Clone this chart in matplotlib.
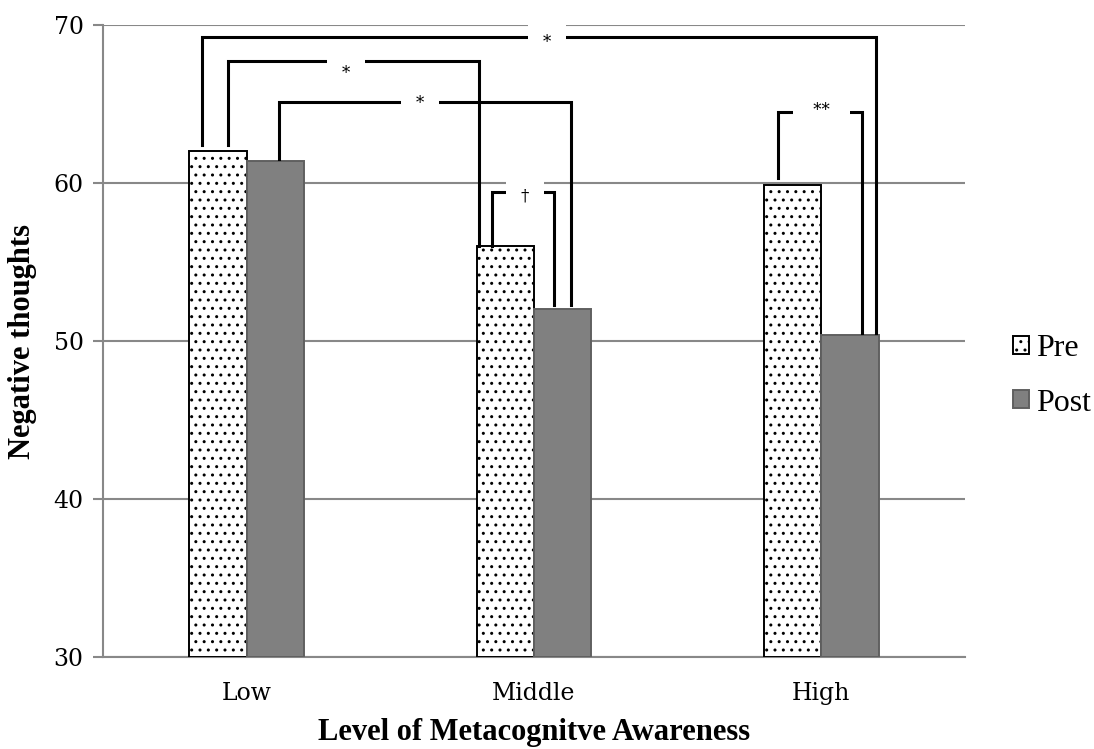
import matplotlib.pyplot as plt
import matplotlib as mpl
import numpy as np

categories = ["Low", "Middle", "High"]
pre_values = [62.0, 56.0, 59.9]
post_values = [61.4, 52.0, 50.4]

# significance brackets: (x_left, x_right, left_end, right_end, height, label)
brackets = [
    (-0.155, 2.19, 62.4, 50.5, 69.25, "*"),
    (-0.065, 0.81, 62.4, 56.0, 67.7, "*"),
    (0.113, 1.13, 61.5, 52.3, 65.1, "*"),
    (0.855, 1.07, 56.0, 52.3, 59.45, "\u2020"),
    (1.85, 2.14, 60.3, 50.5, 64.5, " ** "),
]
# where each bracket's label sits (x, y)
label_pos = [(1.045, 68.92), (0.346, 66.9), (0.603, 65.06), (0.969, 59.18), (2.0, 64.56)]

mpl.rcParams["hatch.linewidth"] = 1.0
mpl.rcParams["hatch.color"] = "#606060"

fig = plt.figure(figsize=(10.94, 7.49), dpi=100)
ax = fig.add_axes([0.0941, 0.1228, 0.788, 0.8438])

x = np.arange(len(categories))
w = 0.2
ax.bar(x - w / 2, np.array(pre_values) - 30, w, bottom=30, color="white",
       edgecolor="black", linewidth=1.4, hatch="..", label="Pre", zorder=3)
ax.bar(x + w / 2, np.array(post_values) - 30, w, bottom=30, color="#808080",
       edgecolor="#606060", linewidth=1.4, label="Post", zorder=3)

ax.set_xlim(-0.5, 2.5)
ax.set_ylim(30, 70)
ax.set_yticks([30, 40, 50, 60, 70])
ax.set_xticks(x)
ax.set_xticklabels(categories)
ax.yaxis.grid(True, color="#888888", linewidth=1.5, zorder=0)
ax.set_axisbelow(True)
for s in ["top", "right"]:
    ax.spines[s].set_visible(False)
ax.spines["left"].set_color("#888888")
ax.spines["left"].set_linewidth(1.5)
ax.spines["bottom"].set_color("#888888")
ax.spines["bottom"].set_linewidth(1.5)
ax.tick_params(axis="y", direction="out", length=7, width=1.5, color="#888888",
               labelsize=17, pad=7)
ax.tick_params(axis="x", length=0, labelsize=17, pad=18)
for t in ax.get_xticklabels() + ax.get_yticklabels():
    t.set_family("DejaVu Serif")

ax.set_ylabel("Negative thoughts", family="Liberation Serif", fontweight="bold",
              fontsize=22)
ax.yaxis.set_label_coords(-0.077, 0.5)
ax.set_xlabel("Level of Metacognitve Awareness", family="Liberation Serif",
              fontweight="bold", fontsize=22)
ax.xaxis.set_label_coords(0.5, -0.096)

for (xl, xr, yl, yr, h, lab), (tx, ty) in zip(brackets, label_pos):
    ax.plot([xl, xl, xr, xr], [yl, h, h, yr], color="black", linewidth=2.2,
            zorder=4, clip_on=False, solid_joinstyle="miter")
    ax.text(tx, ty, lab, ha="center", va="center", fontsize=12,
            family="DejaVu Serif", zorder=5,
            bbox=dict(boxstyle="square,pad=0.9", facecolor="white",
                      edgecolor="none"))

leg = ax.legend(loc="center left", bbox_to_anchor=(1.056, 0.445), frameon=False,
                prop={"family": "Liberation Serif", "size": 23},
                handlelength=0.5, handleheight=0.5, handletextpad=0.2,
                labelspacing=0.8, borderpad=0, borderaxespad=0)

fig.savefig("out.png", dpi=100)
